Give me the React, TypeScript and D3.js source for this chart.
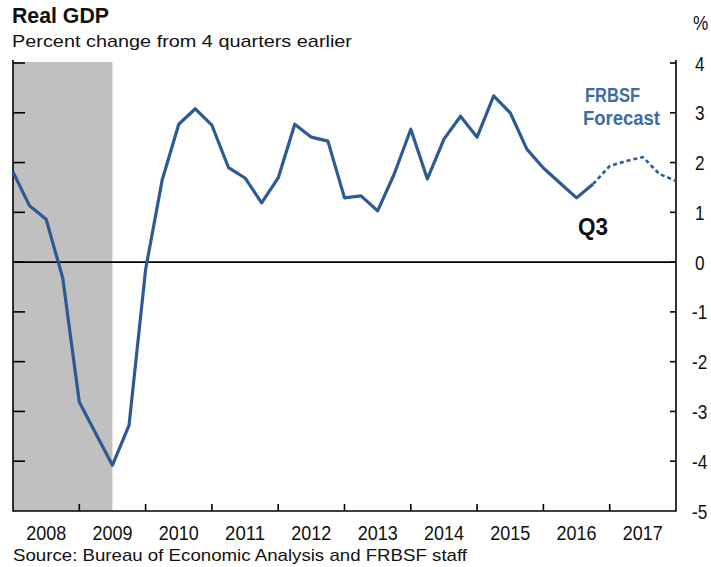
import React, { useEffect, useRef } from 'react';
import * as d3 from 'd3';

// quarterly 4-quarter % change, 2007Q4 .. 2016Q3 (plotted at end of quarter)
const startYear = 2008;
const actual = [
  1.81, 1.13, 0.86, -0.32, -2.81, -3.45, -4.08, -3.28, -0.15,
  1.65, 2.77, 3.08, 2.75, 1.9, 1.69, 1.19, 1.69,
  2.77, 2.51, 2.43, 1.29, 1.33, 1.03, 1.77, 2.67,
  1.67, 2.47, 2.93, 2.51, 3.34, 3.0, 2.27, 1.89,
  1.59, 1.29, 1.57,
];
// forecast starts at 2016Q3 (last actual) and runs to 2017Q4
const forecastStart = 35;
const forecast = [1.57, 1.93, 2.03, 2.11, 1.77, 1.63];

const years = [2008, 2009, 2010, 2011, 2012, 2013, 2014, 2015, 2016, 2017];
const yTicks = [4, 3, 2, 1, 0, -1, -2, -3, -4, -5];
const recession = [2008, 2009.5];

const W = 711, H = 567;
const lineColor = '#2c5b94';
const font = "'Liberation Sans', Arial, sans-serif";

const App = () => {
  const svgRef = useRef(null);

  useEffect(() => {
    document.body.style.margin = '0';
    const svg = d3.select(svgRef.current);
    svg.selectAll('*').remove();

    const x = d3.scaleLinear().domain([2008, 2018]).range([13, 676]);
    const y = d3.scaleLinear().domain([-5, 4]).range([511, 63]);
    const qx = (i) => x(startYear + i * 0.25);

    // recession shading
    svg.append('rect')
      .attr('x', x(recession[0]))
      .attr('y', y(4) - 1)
      .attr('width', x(recession[1]) - x(recession[0]))
      .attr('height', y(-5) - y(4) + 1)
      .attr('fill', '#c0c0c0');

    // zero line
    svg.append('line')
      .attr('x1', x(2008)).attr('x2', x(2018))
      .attr('y1', y(0)).attr('y2', y(0))
      .attr('stroke', '#000').attr('stroke-width', 1.6);

    // frame: left, right, bottom
    const frame = d3.path();
    frame.moveTo(x(2008), y(4) - 3);
    frame.lineTo(x(2008), y(-5));
    frame.lineTo(x(2018), y(-5));
    frame.lineTo(x(2018), y(4) - 3);
    svg.append('path').attr('d', frame.toString())
      .attr('fill', 'none').attr('stroke', '#000').attr('stroke-width', 1.6);

    // left ticks (inward, long)
    svg.append('g').selectAll('line').data(yTicks.filter(d => d > -5)).enter()
      .append('line')
      .attr('x1', x(2008)).attr('x2', x(2008) + 12)
      .attr('y1', d => y(d)).attr('y2', d => y(d))
      .attr('stroke', '#000').attr('stroke-width', 1.6);

    // right ticks (inward, short)
    svg.append('g').selectAll('line').data(yTicks.filter(d => d > -5)).enter()
      .append('line')
      .attr('x1', x(2018) - 6).attr('x2', x(2018))
      .attr('y1', d => y(d)).attr('y2', d => y(d))
      .attr('stroke', '#000').attr('stroke-width', 1.6);

    // right labels
    svg.append('g').selectAll('text').data(yTicks).enter()
      .append('text')
      .attr('transform', d => `translate(${d < 0 ? 692 : 695},${y(d) + 7.5}) scale(0.82,1)`)
      .attr('font-family', font).attr('font-size', 21).attr('fill', '#111')
      .text(d => d);

    svg.append('text')
      .attr('transform', 'translate(693,30) scale(0.82,1)')
      .attr('font-family', font).attr('font-size', 21).attr('fill', '#111')
      .text('%');

    // bottom ticks at year boundaries
    svg.append('g').selectAll('line').data(years.slice(1)).enter()
      .append('line')
      .attr('x1', d => x(d)).attr('x2', d => x(d))
      .attr('y1', y(-5) - 7).attr('y2', y(-5))
      .attr('stroke', '#000').attr('stroke-width', 1.6);

    svg.append('g').selectAll('text').data(years).enter()
      .append('text')
      .attr('x', d => x(d + 0.5)).attr('y', 540)
      .attr('text-anchor', 'middle')
      .attr('textLength', 40).attr('lengthAdjust', 'spacingAndGlyphs')
      .attr('font-family', font).attr('font-size', 20).attr('fill', '#111')
      .text(d => d);

    // series
    const line = d3.line().x(d => qx(d[0])).y(d => y(d[1]));
    svg.append('path')
      .attr('d', line(actual.map((v, i) => [i, v])))
      .attr('fill', 'none').attr('stroke', lineColor)
      .attr('stroke-width', 3.2).attr('stroke-linejoin', 'round');

    svg.append('path')
      .attr('d', line(forecast.map((v, i) => [forecastStart + i, v])))
      .attr('fill', 'none').attr('stroke', lineColor)
      .attr('stroke-width', 2.6).attr('stroke-dasharray', '4,3');

    // annotations
    svg.append('text')
      .attr('x', 585).attr('y', 102)
      .attr('textLength', 55).attr('lengthAdjust', 'spacingAndGlyphs')
      .attr('font-family', font).attr('font-size', 20).attr('font-weight', 'bold')
      .attr('fill', '#3d6ca3').text('FRBSF');
    svg.append('text')
      .attr('x', 583).attr('y', 125)
      .attr('textLength', 77).attr('lengthAdjust', 'spacingAndGlyphs')
      .attr('font-family', font).attr('font-size', 20).attr('font-weight', 'bold')
      .attr('fill', '#3d6ca3').text('Forecast');
    svg.append('text')
      .attr('x', 578).attr('y', 235)
      .attr('textLength', 30).attr('lengthAdjust', 'spacingAndGlyphs')
      .attr('font-family', font).attr('font-size', 24).attr('font-weight', 'bold')
      .attr('fill', '#111').text('Q3');

    // titles
    svg.append('text')
      .attr('x', 12).attr('y', 23)
      .attr('textLength', 97).attr('lengthAdjust', 'spacingAndGlyphs')
      .attr('font-family', font).attr('font-size', 22).attr('font-weight', 'bold')
      .attr('fill', '#111').text('Real GDP');
    svg.append('text')
      .attr('x', 12).attr('y', 47)
      .attr('textLength', 340).attr('lengthAdjust', 'spacingAndGlyphs')
      .attr('font-family', font).attr('font-size', 17)
      .attr('fill', '#111').text('Percent change from 4 quarters earlier');
    svg.append('text')
      .attr('x', 13).attr('y', 561)
      .attr('textLength', 454).attr('lengthAdjust', 'spacingAndGlyphs')
      .attr('font-family', font).attr('font-size', 17)
      .attr('fill', '#111').text('Source: Bureau of Economic Analysis and FRBSF staff');
  }, []);

  return (
    <div>
      <svg ref={svgRef} width={W} height={H} style={{ display: 'block', background: '#fff' }}></svg>
    </div>
  );
};

export default App;
